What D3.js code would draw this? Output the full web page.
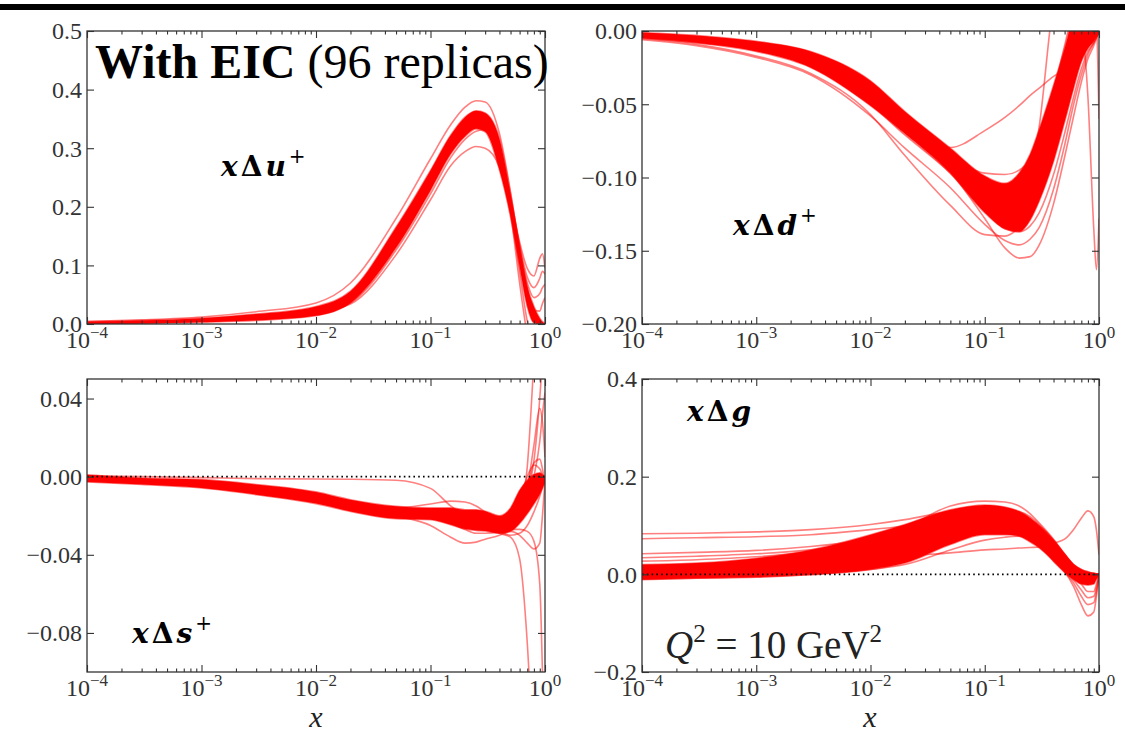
<!DOCTYPE html>
<html><head><meta charset="utf-8">
<script src="https://cdn.jsdelivr.net/npm/d3@7"></script>
<style>body{margin:0;background:#fff}</style>
</head><body><svg id="c" width="1125" height="738"></svg>
<script>
// ---------- data ----------
const xGrid = [1e-4, 3e-4, 1e-3, 3e-3, 1e-2, 2e-2, 5e-2, 0.1, 0.15, 0.2, 0.25, 0.3, 0.4, 0.5, 0.6, 0.7, 0.8, 0.9, 0.95, 1.0];
const xMajorTicks = [1e-4, 1e-3, 1e-2, 1e-1, 1];
const xTickExponents = ["\u22124", "\u22123", "\u22122", "\u22121", "0"];

// x Δu+
const uBandLow  = [0.000,0.001,0.003,0.006,0.014,0.036,0.130,0.228,0.290,0.320,0.333,0.328,0.263,0.183,0.098,0.030,0.002,0.000,0.000,0.000];
const uBandHigh = [0.004,0.006,0.010,0.017,0.030,0.056,0.165,0.262,0.322,0.353,0.364,0.360,0.316,0.222,0.132,0.064,0.030,0.010,0.004,0.001];
const uRep1 = [0.004,0.007,0.012,0.021,0.036,0.070,0.180,0.282,0.340,0.370,0.381,0.379,0.325,0.225,0.130,0.060,0.015,0.000,-0.002,-0.003];
const uRep2 = [0.002,0.004,0.007,0.012,0.020,0.034,0.118,0.212,0.270,0.294,0.303,0.300,0.268,0.198,0.116,0.046,0.008,-0.002,-0.003,-0.003];
const uRep3 = [0.001,0.003,0.006,0.011,0.019,0.036,0.126,0.222,0.284,0.315,0.329,0.332,0.298,0.210,0.120,0.050,0.012,0.002,0.000,0.000];
const uRep4 = [0.002,0.004,0.008,0.014,0.026,0.048,0.152,0.250,0.310,0.340,0.350,0.346,0.300,0.216,0.140,0.095,0.082,0.112,0.120,0.095];
const uRep5 = [0.001,0.003,0.007,0.013,0.024,0.046,0.148,0.246,0.306,0.336,0.347,0.343,0.296,0.212,0.135,0.080,0.062,0.078,0.090,0.085];
const uRep6 = [0.001,0.003,0.006,0.012,0.022,0.044,0.144,0.242,0.302,0.333,0.344,0.340,0.292,0.208,0.128,0.070,0.045,0.052,0.062,0.068];
const uRep7 = [0.001,0.002,0.005,0.010,0.020,0.042,0.140,0.238,0.298,0.330,0.341,0.337,0.288,0.204,0.120,0.058,0.024,0.022,0.035,0.045];
const uRep8 = [0.001,0.002,0.005,0.010,0.019,0.040,0.138,0.236,0.297,0.329,0.340,0.336,0.280,0.190,0.070,-0.020,-0.080,-0.100,-0.100,-0.100];
const uRep9 = [0.001,0.003,0.006,0.011,0.021,0.043,0.142,0.240,0.300,0.332,0.343,0.339,0.286,0.200,0.090,0.005,-0.030,-0.020,-0.010,0.000];

// x Δd+
const dBandHigh = [-0.001,-0.003,-0.007,-0.014,-0.034,-0.055,-0.080,-0.099,-0.104,-0.097,-0.084,-0.067,-0.037,-0.012,0.010,0.020,0.015,0.006,0.003,0.000];
const dBandLow  = [-0.005,-0.008,-0.014,-0.025,-0.051,-0.070,-0.097,-0.124,-0.135,-0.137,-0.129,-0.116,-0.089,-0.062,-0.039,-0.021,-0.012,-0.007,-0.004,-0.002];
const dRepA = [-0.005,-0.009,-0.017,-0.029,-0.057,-0.085,-0.119,-0.139,-0.140,-0.134,-0.124,-0.112,-0.084,-0.057,-0.035,-0.019,-0.010,-0.005,-0.002,0.000];
const dRepB = [-0.004,-0.007,-0.013,-0.022,-0.049,-0.069,-0.096,-0.128,-0.148,-0.155,-0.154,-0.146,-0.118,-0.086,-0.058,-0.035,-0.019,-0.010,-0.005,0.000];
const dRepC = [-0.002,-0.004,-0.009,-0.017,-0.043,-0.064,-0.0795,-0.068,-0.059,-0.051,-0.044,-0.039,-0.031,-0.026,-0.020,-0.015,-0.010,-0.005,-0.003,0.000];
const dRepD = [-0.002,-0.004,-0.008,-0.015,-0.037,-0.059,-0.085,-0.097,-0.098,-0.095,-0.088,-0.075,-0.045,-0.015,0.005,0.012,0.010,0.005,0.002,0.000];
const dRepE = [-0.003,-0.006,-0.011,-0.019,-0.042,-0.063,-0.088,-0.108,-0.112,-0.106,-0.100,-0.065,0.020,0.050,0.060,0.050,0.040,0.030,0.010,-0.060];
const dRepF = [-0.003,-0.006,-0.011,-0.020,-0.044,-0.065,-0.090,-0.115,-0.125,-0.125,-0.115,-0.100,-0.070,-0.035,0.020,0.005,-0.045,-0.135,-0.163,-0.128];
const dRepG = [-0.004,-0.008,-0.013,-0.023,-0.050,-0.071,-0.097,-0.122,-0.135,-0.137,-0.133,-0.124,-0.098,-0.070,-0.045,-0.026,-0.014,-0.008,-0.004,0.000];
const dRepH = [-0.002,-0.004,-0.008,-0.015,-0.036,-0.057,-0.081,-0.100,-0.105,-0.100,-0.090,-0.075,-0.042,-0.010,0.015,0.025,0.018,0.008,0.004,0.000];
const dRepI = [-0.006,-0.010,-0.018,-0.030,-0.058,-0.080,-0.107,-0.132,-0.143,-0.146,-0.142,-0.134,-0.108,-0.078,-0.050,-0.030,-0.016,-0.008,-0.004,0.000];

// x Δs+
const sBandHigh = [0.001,-0.0007,-0.0015,-0.004,-0.0078,-0.0118,-0.0152,-0.016,-0.016,-0.0169,-0.017,-0.0177,-0.020,-0.016,-0.007,-0.002,0.001,0.002,0.001,0.000];
const sBandLow  = [-0.0027,-0.004,-0.0058,-0.0092,-0.0138,-0.0178,-0.0215,-0.022,-0.0246,-0.0268,-0.0275,-0.0278,-0.029,-0.028,-0.024,-0.019,-0.014,-0.009,-0.006,-0.003];
const sRep1  = [0.0005,0.0,-0.0005,-0.001,-0.0012,-0.0013,-0.0018,-0.006,-0.015,-0.020,-0.022,-0.024,-0.027,-0.024,-0.014,-0.006,-0.002,0.000,0.000,0.000];
const sRep2  = [-0.002,-0.003,-0.005,-0.008,-0.012,-0.016,-0.020,-0.025,-0.031,-0.034,-0.0335,-0.032,-0.030,-0.027,-0.019,-0.011,-0.006,-0.004,-0.003,-0.002];
const sRep3  = [-0.001,-0.002,-0.003,-0.006,-0.010,-0.014,-0.016,-0.014,-0.0125,-0.013,-0.015,-0.018,-0.022,-0.018,-0.008,-0.002,0.001,0.001,0.000,0.000];
const sRep4  = [-0.001,-0.002,-0.004,-0.007,-0.011,-0.015,-0.019,-0.020,-0.021,-0.022,-0.023,-0.025,-0.029,-0.031,-0.042,-0.085,-0.150,-0.200,-0.200,-0.200];
const sRep5  = [-0.001,-0.002,-0.004,-0.007,-0.011,-0.015,-0.019,-0.020,-0.022,-0.024,-0.025,-0.026,-0.027,-0.027,-0.027,-0.028,-0.033,-0.055,-0.100,-0.160];
const sRep6  = [-0.001,-0.002,-0.004,-0.007,-0.011,-0.015,-0.018,-0.019,-0.020,-0.021,-0.022,-0.023,-0.026,-0.025,-0.018,0.005,0.060,0.120,0.130,0.120];
const sRep7  = [-0.002,-0.003,-0.004,-0.007,-0.011,-0.015,-0.019,-0.020,-0.021,-0.022,-0.023,-0.024,-0.027,-0.026,-0.020,-0.006,0.016,0.035,0.028,0.010];
const sRep8  = [-0.001,-0.002,-0.004,-0.007,-0.011,-0.015,-0.019,-0.020,-0.021,-0.022,-0.023,-0.024,-0.027,-0.027,-0.022,-0.012,0.000,0.018,0.032,0.043];
const sRep9  = [-0.001,-0.002,-0.004,-0.007,-0.011,-0.015,-0.019,-0.020,-0.021,-0.022,-0.023,-0.024,-0.026,-0.025,-0.020,-0.008,0.008,0.040,0.060,0.080];
const sRep10 = [-0.002,-0.003,-0.005,-0.008,-0.012,-0.016,-0.020,-0.021,-0.023,-0.025,-0.026,-0.027,-0.029,-0.028,-0.030,-0.034,-0.037,-0.034,-0.020,-0.002];
const sRep11 = [-0.001,-0.002,-0.004,-0.007,-0.011,-0.015,-0.019,-0.020,-0.021,-0.022,-0.023,-0.024,-0.027,-0.026,-0.018,-0.006,0.007,0.009,0.004,-0.004];
const sRep12 = [-0.001,-0.002,-0.004,-0.007,-0.011,-0.015,-0.019,-0.019,-0.018,-0.019,-0.021,-0.024,-0.028,-0.030,-0.029,-0.025,-0.018,-0.010,-0.005,0.000];
const sRep13 = [-0.001,-0.002,-0.004,-0.007,-0.011,-0.015,-0.019,-0.021,-0.024,-0.027,-0.029,-0.029,-0.028,-0.026,-0.012,0.000,0.006,0.004,0.001,-0.001];

// x Δg
const gBandHigh = [0.020,0.023,0.033,0.050,0.081,0.102,0.132,0.142,0.138,0.129,0.115,0.098,0.068,0.040,0.020,0.010,0.005,0.002,0.001,0.001];
const gBandLow  = [-0.011,-0.008,-0.006,-0.001,0.010,0.023,0.061,0.081,0.081,0.078,0.066,0.054,0.027,0.004,-0.011,-0.020,-0.022,-0.020,-0.010,-0.004];
const gRep1  = [0.083,0.084,0.087,0.0915,0.102,0.112,0.129,0.136,0.133,0.125,0.112,0.098,0.068,0.040,0.018,0.008,0.004,0.002,0.001,0.000];
const gRep2  = [0.073,0.075,0.077,0.081,0.0915,0.099,0.112,0.122,0.125,0.122,0.112,0.097,0.066,0.038,0.017,0.006,0.000,-0.002,-0.001,0.000];
const gRep3  = [0.042,0.045,0.049,0.057,0.071,0.081,0.102,0.116,0.122,0.121,0.112,0.098,0.068,0.040,0.018,0.008,0.003,0.001,0.000,0.000];
const gRep4  = [0.000,0.004,0.010,0.016,0.030,0.037,0.044,0.050,0.052,0.054,0.055,0.056,0.064,0.072,0.092,0.115,0.130,0.118,0.090,0.040];
const gRep5  = [-0.005,-0.003,0.000,0.006,0.018,0.030,0.065,0.090,0.095,0.092,0.082,0.068,0.027,0.005,-0.025,-0.062,-0.085,-0.077,-0.045,-0.005];
const gRep6  = [0.000,0.003,0.008,0.015,0.030,0.045,0.080,0.100,0.104,0.100,0.090,0.076,0.040,0.006,-0.018,-0.045,-0.062,-0.058,-0.035,-0.004];
const gRep7  = [0.005,0.008,0.013,0.022,0.040,0.055,0.090,0.110,0.112,0.107,0.096,0.080,0.045,0.008,-0.012,-0.032,-0.048,-0.045,-0.028,-0.003];
const gRep8  = [0.010,0.013,0.019,0.030,0.050,0.068,0.100,0.118,0.118,0.111,0.099,0.082,0.050,0.018,-0.005,-0.020,-0.035,-0.035,-0.020,-0.002];
const gRep9  = [0.010,0.014,0.022,0.038,0.070,0.095,0.140,0.150,0.148,0.140,0.124,0.105,0.072,0.042,0.020,0.010,0.005,0.002,0.001,0.000];
const gRep10 = [-0.010,-0.008,-0.005,0.000,0.010,0.020,0.050,0.070,0.076,0.078,0.073,0.065,0.045,0.025,0.006,-0.006,-0.012,-0.012,-0.007,-0.002];
const gRep11 = [0.034,0.037,0.042,0.050,0.066,0.080,0.105,0.120,0.124,0.122,0.114,0.100,0.070,0.041,0.019,0.008,0.002,0.000,0.000,0.000];
const gRep12 = [0.027,0.030,0.036,0.046,0.064,0.078,0.104,0.126,0.131,0.128,0.118,0.102,0.070,0.040,0.018,0.006,0.000,-0.003,-0.002,0.000];

// axis ticks and labels
const uTicks = [0, 0.1, 0.2, 0.3, 0.4, 0.5];
const uTickLabels = ["0.0", "0.1", "0.2", "0.3", "0.4", "0.5"];
const dTicks = [-0.2, -0.15, -0.1, -0.05, 0];
const dTickLabels = ["\u22120.20", "\u22120.15", "\u22120.10", "\u22120.05", "0.00"];
const sTicks = [-0.08, -0.04, 0, 0.04];
const sTickLabels = ["\u22120.08", "\u22120.04", "0.00", "0.04"];
const gTicks = [-0.2, 0, 0.2, 0.4];
const gTickLabels = ["\u22120.2", "0.0", "0.2", "0.4"];

// ---------- drawing ----------
const svg = d3.select('#c');
svg.append('rect').attr('width', 1125).attr('height', 738).attr('fill', '#fff');
svg.append('rect').attr('x', 0).attr('y', 4).attr('width', 1125).attr('height', 6).attr('fill', '#000');

const panels = [
  {x0: 87, x1: 545, y0: 31, y1: 324, domain: [0, 0.5], low: uBandLow, high: uBandHigh,
   reps: [uRep1, uRep2, uRep3, uRep4, uRep5, uRep6, uRep7, uRep8, uRep9], ticks: uTicks, labels: uTickLabels, zero: false},
  {x0: 642, x1: 1099, y0: 31, y1: 324, domain: [-0.2, 0], low: dBandLow, high: dBandHigh,
   reps: [dRepA, dRepB, dRepC, dRepD, dRepE, dRepF, dRepG, dRepH, dRepI], ticks: dTicks, labels: dTickLabels, zero: false},
  {x0: 87, x1: 545, y0: 379, y1: 672, domain: [-0.1, 0.05], low: sBandLow, high: sBandHigh,
   reps: [sRep1, sRep2, sRep3, sRep4, sRep5, sRep6, sRep7, sRep8, sRep9, sRep10, sRep11, sRep12, sRep13], ticks: sTicks, labels: sTickLabels, zero: true},
  {x0: 642, x1: 1099, y0: 379, y1: 672, domain: [-0.2, 0.4], low: gBandLow, high: gBandHigh,
   reps: [gRep1, gRep2, gRep3, gRep4, gRep5, gRep6, gRep7, gRep8, gRep9, gRep10, gRep11, gRep12], ticks: gTicks, labels: gTickLabels, zero: true}
];

const minorTicks = [];
for (let d = -4; d < 0; d++) for (let k = 2; k <= 9; k++) minorTicks.push(k * Math.pow(10, d));

const tickFont = "'Liberation Serif', 'Times New Roman', serif";

panels.forEach((p, i) => {
  const x = d3.scaleLog().domain([1e-4, 1]).range([p.x0, p.x1]);
  const y = d3.scaleLinear().domain(p.domain).range([p.y1, p.y0]);
  const clipId = 'clip' + i;
  svg.append('clipPath').attr('id', clipId).append('rect')
    .attr('x', p.x0).attr('y', p.y0).attr('width', p.x1 - p.x0).attr('height', p.y1 - p.y0);
  const g = svg.append('g').attr('clip-path', `url(#${clipId})`);

  const area = d3.area()
    .x((d, j) => x(xGrid[j]))
    .y0((d, j) => y(p.low[j]))
    .y1((d, j) => y(p.high[j]))
    .curve(d3.curveMonotoneX);
  g.append('path').datum(xGrid).attr('d', area).attr('fill', '#ff0000');

  const line = d3.line().x((d, j) => x(xGrid[j])).y(d => y(d)).curve(d3.curveMonotoneX);
  [p.low, p.high].concat(p.reps).forEach(r => {
    g.append('path').datum(r).attr('d', line).attr('fill', 'none')
      .attr('stroke', '#ff0000').attr('stroke-opacity', 0.5).attr('stroke-width', 1.6);
  });

  if (p.zero) {
    svg.append('line').attr('x1', p.x0).attr('x2', p.x1).attr('y1', y(0)).attr('y2', y(0))
      .attr('stroke', '#000').attr('stroke-width', 1.6).attr('stroke-dasharray', '1.6,3.2');
  }

  // ticks (inward, on all four sides)
  const axes = [
    [d3.axisBottom(x).tickValues(xMajorTicks).tickSize(-7), `translate(0,${p.y1})`],
    [d3.axisBottom(x).tickValues(minorTicks).tickSize(-3.5), `translate(0,${p.y1})`],
    [d3.axisTop(x).tickValues(xMajorTicks).tickSize(-7), `translate(0,${p.y0})`],
    [d3.axisTop(x).tickValues(minorTicks).tickSize(-3.5), `translate(0,${p.y0})`],
    [d3.axisLeft(y).tickValues(p.ticks).tickSize(-7), `translate(${p.x0},0)`],
    [d3.axisRight(y).tickValues(p.ticks).tickSize(-7), `translate(${p.x1},0)`]
  ];
  axes.forEach(([ax, tr]) => {
    const a = svg.append('g').attr('transform', tr).call(ax.tickFormat(''));
    a.select('.domain').remove();
    a.selectAll('line').attr('stroke', '#333').attr('stroke-width', 1.1);
  });

  svg.append('rect').attr('x', p.x0).attr('y', p.y0).attr('width', p.x1 - p.x0).attr('height', p.y1 - p.y0)
    .attr('fill', 'none').attr('stroke', '#333').attr('stroke-width', 1.3);

  // y labels
  p.ticks.forEach((t, j) => {
    svg.append('text').attr('x', p.x0 - 5).attr('y', y(t)).attr('dy', '0.35em')
      .attr('text-anchor', 'end').attr('font-family', tickFont).attr('font-size', 24).attr('fill', '#333')
      .text(p.labels[j]);
  });
  // x labels
  xMajorTicks.forEach((t, j) => {
    const tx = svg.append('text').attr('x', x(t)).attr('y', p.y1 + 24)
      .attr('text-anchor', 'middle').attr('font-family', tickFont).attr('font-size', 24).attr('fill', '#333');
    tx.append('tspan').text('10');
    tx.append('tspan').attr('dy', -10).attr('font-size', 17).text(xTickExponents[j]);
  });
});

// title
const title = svg.append('text').attr('x', 95).attr('y', 78)
  .attr('font-family', tickFont).attr('font-size', 48).attr('fill', '#000');
title.append('tspan').attr('font-weight', 'bold').text('With EIC');
title.append('tspan').text(' (96 replicas)');

// panel labels (bold math)
function mathLabel(px, py, letter, sup) {
  const t = svg.append('text').attr('x', px).attr('y', py)
    .attr('font-family', "'DejaVu Serif', serif").attr('font-weight', 'bold')
    .attr('font-size', 28).attr('fill', '#000').attr('letter-spacing', 3);
  t.append('tspan').attr('font-style', 'italic').text('x');
  t.append('tspan').text('\u0394');
  t.append('tspan').attr('font-style', 'italic').text(letter);
  if (sup) t.append('tspan').attr('dy', -13).attr('font-size', 20).attr('font-weight', 'normal').text(sup);
}
mathLabel(221, 176, 'u', '+');
mathLabel(733, 235, 'd', '+');
mathLabel(132, 643, 's', '+');
mathLabel(687, 421, 'g', null);

// Q^2 label
const q = svg.append('text').attr('x', 665).attr('y', 658)
  .attr('font-family', tickFont).attr('font-size', 39).attr('fill', '#222');
q.append('tspan').attr('font-style', 'italic').text('Q');
q.append('tspan').attr('dy', -16).attr('font-size', 25).text('2');
q.append('tspan').attr('dy', 16).text(' = 10 GeV');
q.append('tspan').attr('dy', -16).attr('font-size', 25).text('2');

// axis titles
[316, 870].forEach(cx => {
  svg.append('text').attr('x', cx).attr('y', 727).attr('text-anchor', 'middle')
    .attr('font-family', tickFont).attr('font-style', 'italic').attr('font-size', 30).attr('fill', '#222').text('x');
});
</script>
</body></html>
